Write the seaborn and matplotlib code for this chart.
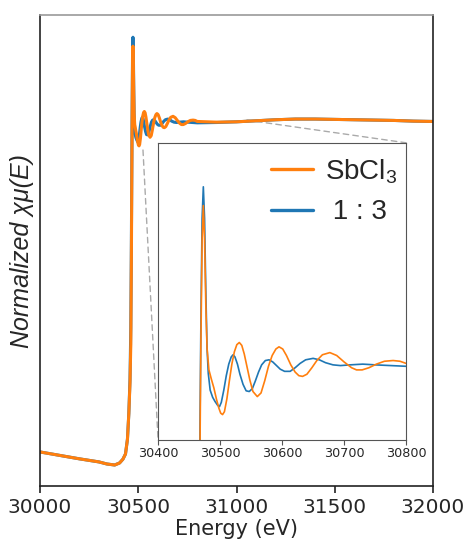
import numpy as np
import pandas as pd
import matplotlib
matplotlib.use("Agg")
import matplotlib.pyplot as plt
from matplotlib.patches import ConnectionPatch
from matplotlib.lines import Line2D
import seaborn as sns

# ---- data ----
e_blue = [30000, 30100, 30200, 30300, 30340, 30380, 30405, 30422, 30435, 30445,
          30452, 30458, 30462, 30465, 30467, 30469, 30471, 30473, 30475, 30477,
          30479, 30481, 30484, 30488, 30492, 30496, 30499, 30502, 30506, 30510,
          30514, 30518, 30521, 30524, 30528, 30532, 30537, 30542, 30547, 30552,
          30557, 30562, 30567, 30573, 30579, 30585, 30591, 30597, 30604, 30613,
          30621, 30629, 30638, 30650, 30660, 30670, 30682, 30694, 30710, 30730,
          30750, 30775, 30800, 30900, 31000, 31100, 31200, 31300, 31400, 31500,
          31600, 31700, 31800, 31900, 32000]
mu_blue = [0.038, 0.028, 0.018, 0.009, 0.003, 0.000, 0.006, 0.017, 0.032, 0.075,
           0.150, 0.250, 0.400, 0.650, 0.850, 1.050, 1.200, 1.244, 1.200, 1.100,
           1.020, 0.985, 0.962, 0.952, 0.946, 0.941, 0.939, 0.945, 0.962, 0.982,
           0.998, 1.008, 1.011, 1.008, 0.998, 0.984, 0.970, 0.961, 0.960, 0.964,
           0.975, 0.987, 0.997, 1.003, 1.004, 1.001, 0.996, 0.991, 0.988, 0.988,
           0.993, 0.999, 1.004, 1.006, 1.004, 1.000, 0.997, 0.996, 0.997, 0.998,
           0.997, 0.996, 0.995, 0.996, 0.998, 1.001, 1.004, 1.006, 1.006, 1.005,
           1.004, 1.003, 1.002, 1.000, 0.999]

e_orange = [30000, 30100, 30200, 30300, 30340, 30380, 30405, 30422, 30435, 30445,
            30452, 30458, 30462, 30465, 30467, 30469, 30471, 30473, 30475, 30477,
            30479, 30482, 30486, 30490, 30494, 30498, 30501, 30504, 30507, 30511,
            30515, 30519, 30523, 30527, 30531, 30535, 30539, 30543, 30548, 30553,
            30560, 30566, 30572, 30578, 30584, 30590, 30595, 30601, 30607, 30614,
            30621, 30627, 30633, 30640, 30648, 30656, 30665, 30677, 30688, 30700,
            30712, 30720, 30729, 30740, 30752, 30765, 30779, 30790, 30800, 30900,
            31000, 31100, 31200, 31300, 31400, 31500, 31600, 31700, 31800, 31900,
            32000]
mu_orange = [0.038, 0.028, 0.018, 0.009, 0.003, 0.000, 0.006, 0.017, 0.032, 0.075,
             0.150, 0.240, 0.350, 0.600, 0.820, 1.020, 1.170, 1.218, 1.170, 1.080,
             1.020, 0.990, 0.977, 0.965, 0.950, 0.937, 0.930, 0.928, 0.932, 0.950,
             0.975, 0.998, 1.015, 1.025, 1.028, 1.024, 1.012, 0.996, 0.976, 0.960,
             0.953, 0.958, 0.975, 0.995, 1.010, 1.019, 1.022, 1.019, 1.010, 0.997,
             0.987, 0.982, 0.981, 0.984, 0.993, 1.003, 1.011, 1.014, 1.010, 1.001,
             0.993, 0.990, 0.990, 0.993, 0.998, 1.002, 1.003, 1.002, 0.999, 0.997,
             0.998, 1.001, 1.004, 1.006, 1.006, 1.005, 1.004, 1.003, 1.002, 1.000,
             0.999]

labels = ["1 : 3", "SbCl$_3$"]
colors = ["#1f77b4", "#ff7f0e"]

df = pd.concat([
    pd.DataFrame({"E": e_blue, "mu": mu_blue, "sample": labels[0]}),
    pd.DataFrame({"E": e_orange, "mu": mu_orange, "sample": labels[1]}),
], ignore_index=True)
palette = dict(zip(labels, colors))

sns.set_theme(style="white")
plt.rcParams["font.family"] = ["DejaVu Sans"]
plt.rcParams["mathtext.fontset"] = "custom"
plt.rcParams["mathtext.rm"] = "Liberation Sans"
plt.rcParams["mathtext.it"] = "Liberation Sans:italic"

fig = plt.figure(figsize=(4.69, 5.43), dpi=100)
ax = fig.add_axes([0.0853, 0.105, 0.838, 0.867])
sns.lineplot(data=df, x="E", y="mu", hue="sample", hue_order=labels,
             palette=palette, estimator=None, linewidth=2.2, ax=ax, legend=False)
ax.set_xlim(30000, 32000)
ax.set_ylim(-0.061, 1.308)
ax.set_yticks([])
ax.set_xticks([30000, 30500, 31000, 31500, 32000])
ax.tick_params(axis="x", labelsize=14.5, length=5, width=1.2, direction="out",
               bottom=True, color="#222222", pad=4)
ax.set_xlabel("Energy (eV)", fontsize=15, labelpad=1)
ax.set_ylabel("Normalized χμ(E)", fontsize=18, fontstyle="italic",
              family=["Liberation Sans", "DejaVu Sans"], labelpad=4)
for s in ["left", "bottom", "right"]:
    ax.spines[s].set_color("#222222")
    ax.spines[s].set_linewidth(1.2)
ax.spines["top"].set_color("#999999")
ax.spines["top"].set_linewidth(1.2)

ins = fig.add_axes([0.337, 0.190, 0.529, 0.547])
sns.lineplot(data=df, x="E", y="mu", hue="sample", hue_order=labels,
             palette=palette, estimator=None, linewidth=1.2, ax=ins, legend=False)
ins.set_xlim(30400, 30800)
ins.set_ylim(0.893, 1.305)
ins.set_yticks([])
ins.set_xticks([30400, 30500, 30600, 30700, 30800])
ins.tick_params(axis="x", labelsize=9.2, length=3.5, width=0.8, bottom=True,
                color="#555555", pad=2)
ins.set_xlabel("")
ins.set_ylabel("")
for s in ins.spines.values():
    s.set_color("#555555")
    s.set_linewidth(0.8)

handles = [Line2D([0], [0], color=colors[1], lw=2.4), Line2D([0], [0], color=colors[0], lw=2.4)]
leg = ins.legend(handles, ["SbCl$_3$", " 1 : 3"], loc="upper right",
                 bbox_to_anchor=(1.0, 0.98), frameon=False,
                 handlelength=1.5, handletextpad=0.45, labelspacing=0.5,
                 borderpad=0.2, borderaxespad=0.1,
                 prop={"family": "Liberation Sans", "size": 20})

c1 = ConnectionPatch(xyA=(31053, 1.003), coordsA=ax.transData,
                     xyB=(1.0, 1.0), coordsB=ins.transAxes,
                     linestyle=(0, (4, 3)), color="#aaaaaa", lw=1.0, zorder=1)
c2 = ConnectionPatch(xyA=(30524, 0.916), coordsA=ax.transData,
                     xyB=(0.0, 0.0), coordsB=ins.transAxes,
                     linestyle=(0, (4, 3)), color="#aaaaaa", lw=1.0, zorder=1)
ax.add_artist(c1)
ax.add_artist(c2)

fig.savefig("out.png", dpi=100)
